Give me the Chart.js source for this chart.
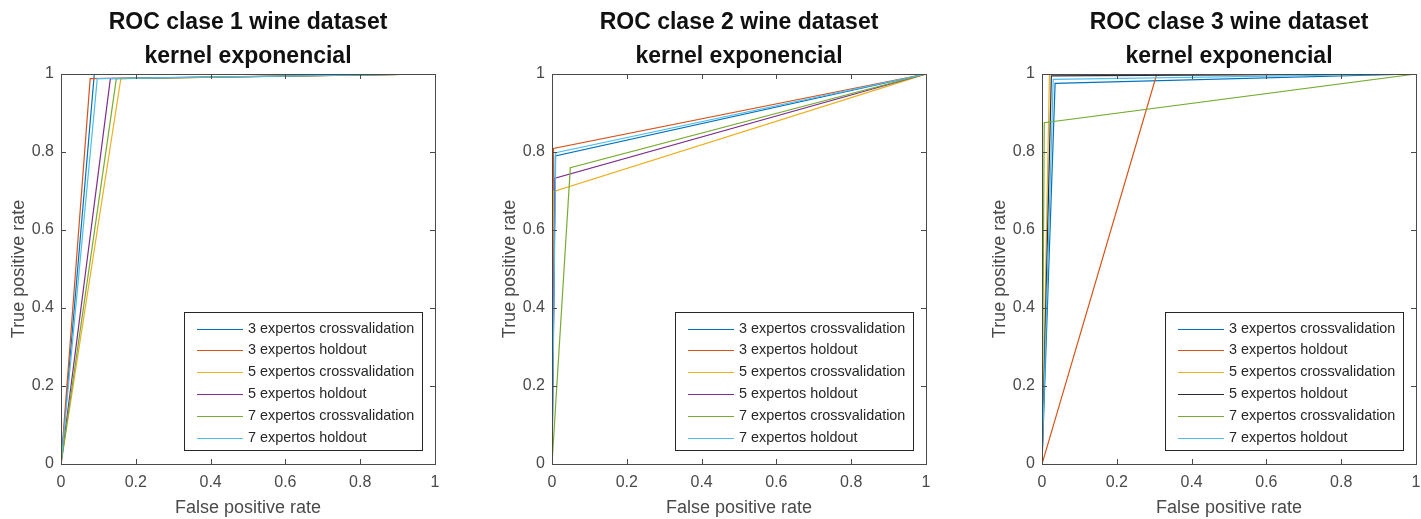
<!DOCTYPE html>
<html>
<head>
<meta charset="utf-8">
<script src="https://cdn.jsdelivr.net/npm/chart.js@4.4.1/dist/chart.umd.min.js"></script>
<style>
  html, body { margin: 0; padding: 0; background: #ffffff; overflow: hidden; width: 1421px; height: 519px; }
  .panel { position: absolute; top: 0; width: 470px; height: 519px; }
</style>
</head>
<body>
<div class="panel" style="left:0px"><canvas id="c1" width="470" height="519"></canvas></div>
<div class="panel" style="left:491px"><canvas id="c2" width="470" height="519"></canvas></div>
<div class="panel" style="left:981px"><canvas id="c3" width="470" height="519"></canvas></div>
<script>
// ---------- data ----------
const seriesNames = [
  "3 expertos crossvalidation",
  "3 expertos holdout",
  "5 expertos crossvalidation",
  "5 expertos holdout",
  "7 expertos crossvalidation",
  "7 expertos holdout"
];
const tickValues = [0, 0.2, 0.4, 0.6, 0.8, 1];
const tickLabels = ["0", "0.2", "0.4", "0.6", "0.8", "1"];

const title1 = ["ROC clase 1 wine dataset", "kernel exponencial"];
const title2 = ["ROC clase 2 wine dataset", "kernel exponencial"];
const title3 = ["ROC clase 3 wine dataset", "kernel exponencial"];

// false positive rate (x) and true positive rate (y), one small array per series
const clase1_fpr = [[0, 0.089, 1], [0, 0.078, 1], [0, 0.160, 1], [0, 0.132, 1], [0, 0.148, 1], [0, 0.097, 1]];
const clase1_tpr = [[0, 1.000, 1], [0, 0.988, 1], [0, 0.988, 1], [0, 0.988, 1], [0, 0.988, 1], [0, 0.988, 1]];

const clase2_fpr = [[0, 0.009, 1], [0, 0.004, 1], [0, 0.003, 1], [0, 0.008, 1], [0, 0.049, 1], [0, 0.010, 1]];
const clase2_tpr = [[0, 0.790, 1], [0, 0.809, 1], [0, 0.698, 1], [0, 0.733, 1], [0, 0.760, 1], [0, 0.798, 1]];

const clase3_fpr = [[0, 0.035, 1], [0, 0.307, 1], [0, 0.020, 1], [0, 0.025, 1], [0, 0.006, 1], [0, 0.030, 1]];
const clase3_tpr = [[0, 0.976, 1], [0, 1.000, 1], [0, 1.000, 1], [0, 0.995, 1], [0, 0.875, 1], [0, 0.986, 1]];

// ---------- styles ----------
const seriesColors = ["#0072BD", "#D95319", "#EDB120", "#7E2F8E", "#77AC30", "#4DBEEE"];
const colors3 = ["#0072BD", "#D95319", "#EDB120", "#2a2a3a", "#77AC30", "#4DBEEE"];
const FONT = "'Liberation Sans', Arial, Helvetica, sans-serif";
const AXIS_COLOR = "#4a4a4a";
const TEXT_COLOR = "#4a4a4a";

const matlabAxesPlugin = {
  id: "matlabAxes",
  afterDraw(chart, args, opts) {
    const { ctx, chartArea, scales } = chart;
    const { left, right, top, bottom } = chartArea;
    ctx.save();
    // title (two bold lines centred over the axes)
    ctx.fillStyle = "#111111";
    ctx.font = "bold 23px " + FONT;
    ctx.textAlign = "center";
    ctx.textBaseline = "middle";
    const cx = (left + right) / 2;
    opts.lines.forEach((t, i) => ctx.fillText(t, cx, 23 + i * 34));

    // box
    ctx.strokeStyle = AXIS_COLOR;
    ctx.lineWidth = 1;
    ctx.strokeRect(Math.round(left) + 0.5, Math.round(top) + 0.5, Math.round(right - left), Math.round(bottom - top));
    // inner ticks on all four sides
    const tl = 5;
    ctx.beginPath();
    tickValues.forEach(v => {
      const px = Math.round(scales.x.getPixelForValue(v)) + 0.5;
      ctx.moveTo(px, bottom); ctx.lineTo(px, bottom - tl);
      ctx.moveTo(px, top); ctx.lineTo(px, top + tl);
      const py = Math.round(scales.y.getPixelForValue(v)) + 0.5;
      ctx.moveTo(left, py); ctx.lineTo(left + tl, py);
      ctx.moveTo(right, py); ctx.lineTo(right - tl, py);
    });
    ctx.stroke();

    // legend box
    const bw = 238, bh = 138;
    const bx = Math.round(right - 13 - bw), by = Math.round(bottom - 14 - bh);
    ctx.fillStyle = "#ffffff";
    ctx.fillRect(bx, by, bw, bh);
    ctx.strokeStyle = "#262626";
    ctx.strokeRect(bx + 0.5, by + 0.5, bw, bh);
    ctx.font = "14.4px " + FONT;
    ctx.textAlign = "left";
    ctx.textBaseline = "middle";
    chart.data.datasets.forEach((ds, i) => {
      const ry = Math.round(by + 16.5 + i * 21.8) + 0.5;
      ctx.strokeStyle = ds.borderColor;
      ctx.lineWidth = 1.2;
      ctx.beginPath();
      ctx.moveTo(bx + 13, ry);
      ctx.lineTo(bx + 59, ry);
      ctx.stroke();
      ctx.fillStyle = "#262626";
      ctx.fillText(ds.label, bx + 64, ry);
    });
    ctx.restore();
  }
};

function makeChart(id, titleLines, fprs, tprs, colors) {
  const datasets = seriesNames.map((name, i) => ({
    label: name,
    data: fprs[i].map((xv, k) => ({ x: xv, y: tprs[i][k] })),
    borderColor: colors[i],
    backgroundColor: colors[i],
    borderWidth: 1.2,
    pointRadius: 0,
    fill: false,
    tension: 0,
    order: seriesNames.length - i
  }));
  return new Chart(document.getElementById(id), {
    type: "line",
    data: { datasets },
    plugins: [matlabAxesPlugin],
    options: {
      responsive: false,
      animation: false,
      layout: { padding: { top: 74, right: 35, bottom: 0, left: 0 } },
      plugins: {
        legend: { display: false },
        title: { display: false },
        tooltip: { enabled: false },
        matlabAxes: { lines: titleLines }
      },
      scales: {
        x: {
          type: "linear",
          min: 0, max: 1,
          afterBuildTicks: s => { s.ticks = tickValues.map(v => ({ value: v })); },
          afterFit: s => { s.height = 55; },
          grid: { display: false, drawTicks: false },
          border: { display: false },
          ticks: {
            callback: (v, idx) => tickLabels[idx],
            font: { family: FONT, size: 16 },
            color: TEXT_COLOR,
            padding: 9,
            maxRotation: 0
          },
          title: {
            display: true,
            text: "False positive rate",
            font: { family: FONT, size: 18 },
            color: TEXT_COLOR,
            padding: { top: 0, bottom: 0 }
          }
        },
        y: {
          type: "linear",
          min: 0, max: 1,
          afterBuildTicks: s => { s.ticks = tickValues.map(v => ({ value: v })); },
          afterFit: s => { s.width = 61; },
          grid: { display: false, drawTicks: false },
          border: { display: false },
          ticks: {
            callback: (v, idx) => tickLabels[idx],
            font: { family: FONT, size: 16 },
            color: TEXT_COLOR,
            padding: 7
          },
          title: {
            display: true,
            text: "True positive rate",
            font: { family: FONT, size: 18 },
            color: TEXT_COLOR,
            padding: { top: 8, bottom: 0 }
          }
        }
      }
    }
  });
}

makeChart("c1", title1, clase1_fpr, clase1_tpr, seriesColors);
makeChart("c2", title2, clase2_fpr, clase2_tpr, seriesColors);
makeChart("c3", title3, clase3_fpr, clase3_tpr, colors3);
</script>
</body>
</html>
